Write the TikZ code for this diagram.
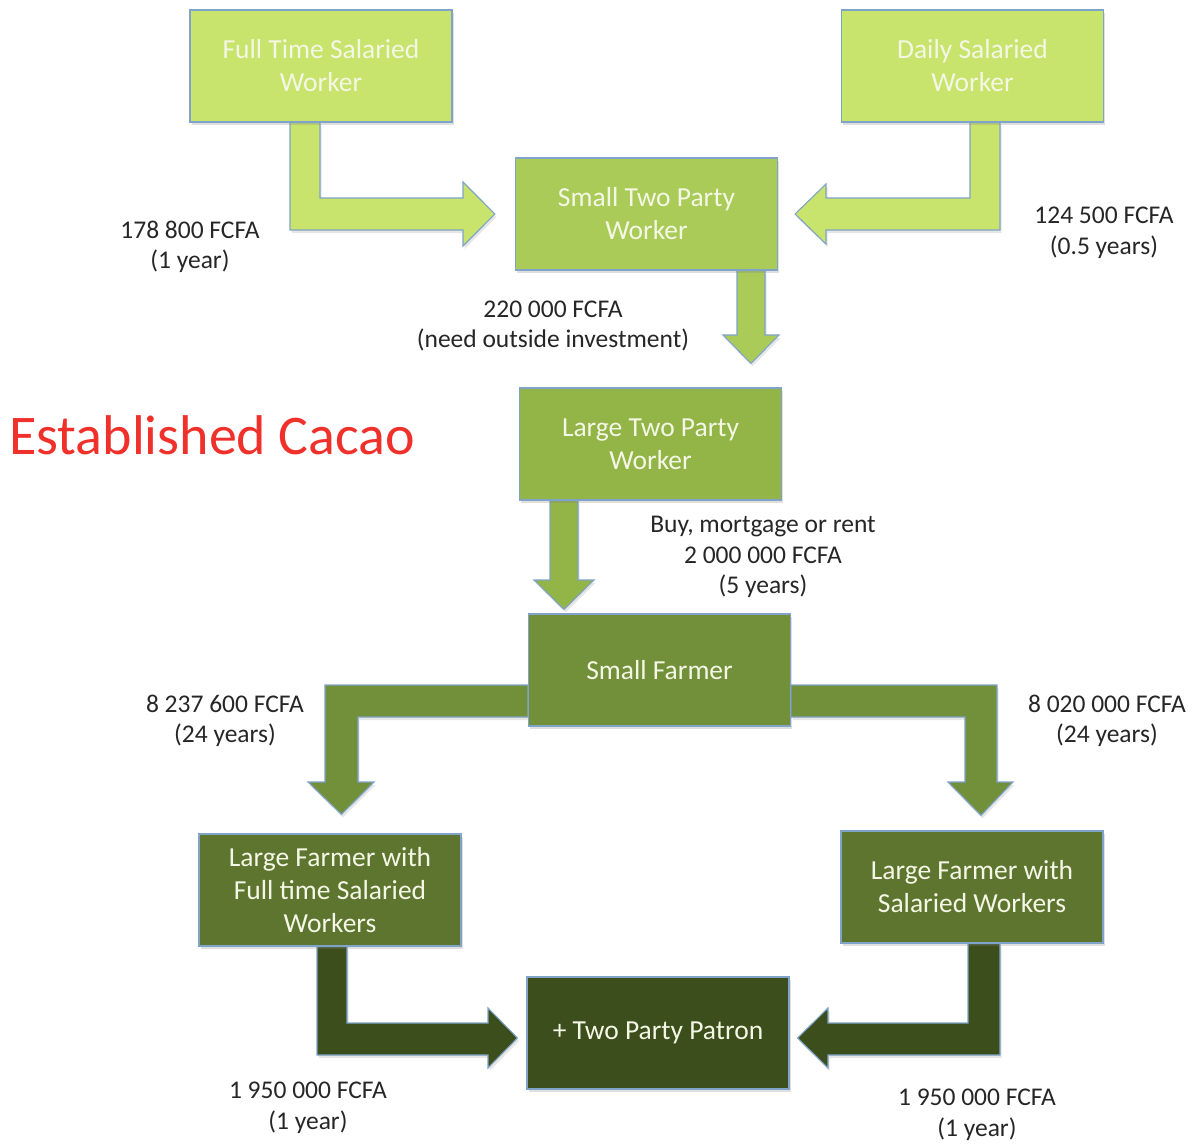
\documentclass[tikz,border=0pt]{standalone}
\usepackage{fontspec}
\setmainfont{Carlito}
\usetikzlibrary{shadows,calc}

\pgfdeclarelayer{background}
\pgfsetlayers{background,main}

\definecolor{gA}{HTML}{C8E46C}
\definecolor{gB}{HTML}{AACB58}
\definecolor{gC}{HTML}{93B446}
\definecolor{gD}{HTML}{72903A}
\definecolor{gE}{HTML}{5E7530}
\definecolor{gF}{HTML}{3C4E1B}
\definecolor{edge}{HTML}{7FA3C9}
\definecolor{boxtext}{HTML}{F5F7E6}
\definecolor{labeltext}{HTML}{262626}
\definecolor{titlered}{HTML}{F0302A}

\tikzset{
  stage/.style={draw=edge, line width=1.1pt, minimum width=262pt, minimum height=112pt,
    inner sep=0pt, align=center, text=boxtext, font=\fontsize{27.5}{33}\selectfont,
    drop shadow={shadow xshift=1.5pt, shadow yshift=-3pt, opacity=0.25}},
  flow/.style={draw=edge, line width=1.1pt, line join=miter,
    drop shadow={shadow xshift=1.5pt, shadow yshift=-3pt, opacity=0.2}},
  note/.style={align=center, text=labeltext, font=\fontsize{25.5}{30.5}\selectfont, inner sep=0pt}
}

\begin{document}
\begin{tikzpicture}[x=1pt,y=-1pt]
\useasboundingbox (0,0) rectangle (1195,1145);

% stages
\node[stage, fill=gA] (ft)  at (321,66)     {Full Time Salaried\\Worker};
\node[stage, fill=gA] (ds)  at (972.5,66)   {Daily Salaried\\Worker};
\node[stage, fill=gB] (stp) at (646.5,214)  {Small Two Party\\Worker};
\node[stage, fill=gC] (ltp) at (650.5,444)  {Large Two Party\\Worker};
\node[stage, fill=gD] (sf)  at (659.5,670)  {Small Farmer};
\node[stage, fill=gE] (lft) at (330,890)    {Large Farmer with\\Full time Salaried\\Workers};
\node[stage, fill=gE] (lsw) at (972,887)    {Large Farmer with\\Salaried Workers};
\node[stage, fill=gF] (tpp) at (658,1033)   {+ Two Party Patron};

% block arrows between stages, behind the boxes
\begin{pgfonlayer}{background}
\path[flow, fill=gA]
  (290,0 |- ft.south) -- (290,230) -- (463,230) -- (463,246)
  -- ($(stp.west)+(-20,0)$) -- (463,182) -- (463,198) -- (320,198)
  -- (320,0 |- ft.south) -- cycle;
\path[flow, fill=gA]
  (1000,0 |- ds.south) -- (1000,230) -- (826,230) -- (826,244)
  -- ($(stp.east)+(17,0)$) -- (826,184) -- (826,198) -- (970,198)
  -- (970,0 |- ds.south) -- cycle;
\path[flow, fill=gB]
  (737,0 |- stp.south) -- (737,335) -- (723,335)
  -- ($(ltp.north)+(100.5,-24)$) -- (779,335) -- (765,335)
  -- (765,0 |- stp.south) -- cycle;
\path[flow, fill=gC]
  (550,0 |- ltp.south) -- (550,580) -- (534,580)
  -- ($(sf.north)+(-95.5,-4)$) -- (594,580) -- (578,580)
  -- (578,0 |- ltp.south) -- cycle;
\path[flow, fill=gD]
  (sf.west |- 0,685) -- (325,685) -- (325,782) -- (308,782)
  -- ($(lft.north)+(11.5,-19)$) -- (374,782) -- (358,782) -- (358,717)
  -- (sf.west |- 0,717) -- cycle;
\path[flow, fill=gD]
  (sf.east |- 0,685) -- (997,685) -- (997,782) -- (1013,782)
  -- ($(lsw.north)+(9,-15)$) -- (948,782) -- (965,782) -- (965,717)
  -- (sf.east |- 0,717) -- cycle;
\path[flow, fill=gF]
  (317,0 |- lft.south) -- (317,1055) -- (488,1055) -- (488,1068)
  -- ($(tpp.west)+(-9,5)$) -- (488,1008) -- (488,1023) -- (347,1023)
  -- (347,0 |- lft.south) -- cycle;
\path[flow, fill=gF]
  (1000,0 |- lsw.south) -- (1000,1055) -- (828,1055) -- (828,1068)
  -- ($(tpp.east)+(8,5)$) -- (828,1008) -- (828,1023) -- (968,1023)
  -- (968,0 |- lsw.south) -- cycle;
\end{pgfonlayer}

% amounts and durations
\node[note] (n1) at (190,247)   {178 800 FCFA\\(1 year)};
\node[note] (n2) at (1104,233)  {124 500 FCFA\\(0.5 years)};
\node[note] (n3) at (553,326)   {220 000 FCFA\\(need outside investment)};
\node[note] (n4) at (763,557)   {Buy, mortgage or rent\\2 000 000 FCFA\\(5 years)};
\node[note] (n5) at (225,721)   {8 237 600 FCFA\\(24 years)};
\node[note] (n6) at (1107,721)  {8 020 000 FCFA\\(24 years)};
\node[note] (n7) at (308,1108)  {1 950 000 FCFA\\(1 year)};
\node[note] (n8) at (977,1115)  {1 950 000 FCFA\\(1 year)};

% heading
\node[anchor=west, text=titlered, font=\fontsize{56}{64}\selectfont, inner sep=0pt]
  (title) at (9,435) {Established Cacao};
\end{tikzpicture}
\end{document}
